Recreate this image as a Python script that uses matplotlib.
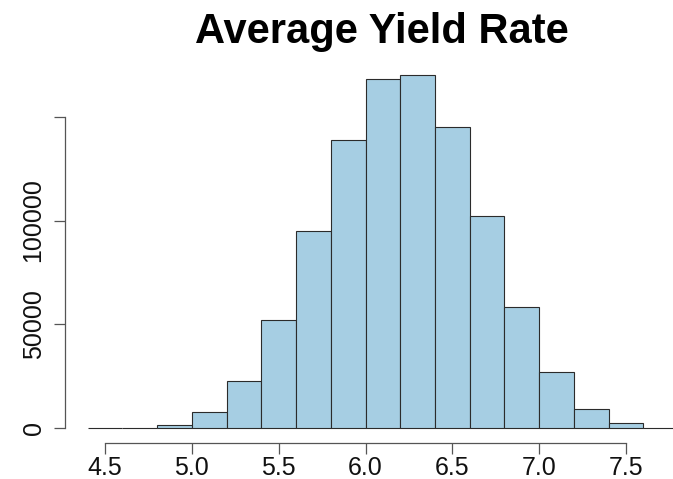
import matplotlib
matplotlib.use("Agg")
import matplotlib.pyplot as plt
import numpy as np

plt.rcParams["font.family"] = ["Liberation Sans", "DejaVu Sans"]

# histogram bins (width 0.2) and counts
bin_edges = [4.4, 4.6, 4.8, 5.0, 5.2, 5.4, 5.6, 5.8, 6.0, 6.2, 6.4, 6.6, 6.8, 7.0, 7.2, 7.4, 7.6, 7.8]
counts = [30, 250, 1700, 7700, 22600, 52300, 95000, 139000, 168000, 170000,
          145000, 102000, 58500, 26900, 9100, 2400, 300]
x_ticks = [4.5, 5.0, 5.5, 6.0, 6.5, 7.0, 7.5]
y_ticks = [0, 50000, 100000, 150000]
y_labels = ["0", "50000", "100000", ""]

fig = plt.figure(figsize=(6.73, 4.79), dpi=100)
ax = fig.add_axes([65 / 673, 36 / 479, 608 / 673, 382 / 479])

edges = np.array(bin_edges)
ax.bar(edges[:-1], counts, width=np.diff(edges), align="edge",
       color="#a6cee3", edgecolor="#2b2b2b", linewidth=0.8)

# R-style 4% padding on the left, picture cut on the right
x0 = 4.27
px_per_unit = 173.7
ax.set_xlim(x0, x0 + 608 / px_per_unit)
ytop = max(counts) * 1.04
ax.set_ylim(-0.04 * ytop, ytop)

for s in ["top", "right"]:
    ax.spines[s].set_visible(False)
ax.spines["left"].set_bounds(0, 150000)
ax.spines["bottom"].set_bounds(4.5, 7.5)
for s in ["left", "bottom"]:
    ax.spines[s].set_color("#555555")
    ax.spines[s].set_linewidth(0.9)

ax.set_xticks(x_ticks)
ax.set_xticklabels([f"{t:.1f}" for t in x_ticks])
ax.set_yticks(y_ticks)
ax.set_yticklabels(y_labels, rotation=90, va="center")
ax.tick_params(axis="both", length=8, width=0.9, color="#555555",
               labelsize=18, labelcolor="#111111")
ax.tick_params(axis="x", pad=1.5)
ax.tick_params(axis="y", pad=6)

fig.text(0.568, 0.933, "Average Yield Rate", ha="center", va="center",
         fontsize=30, fontweight="bold")

fig.savefig("out.png", dpi=100)
